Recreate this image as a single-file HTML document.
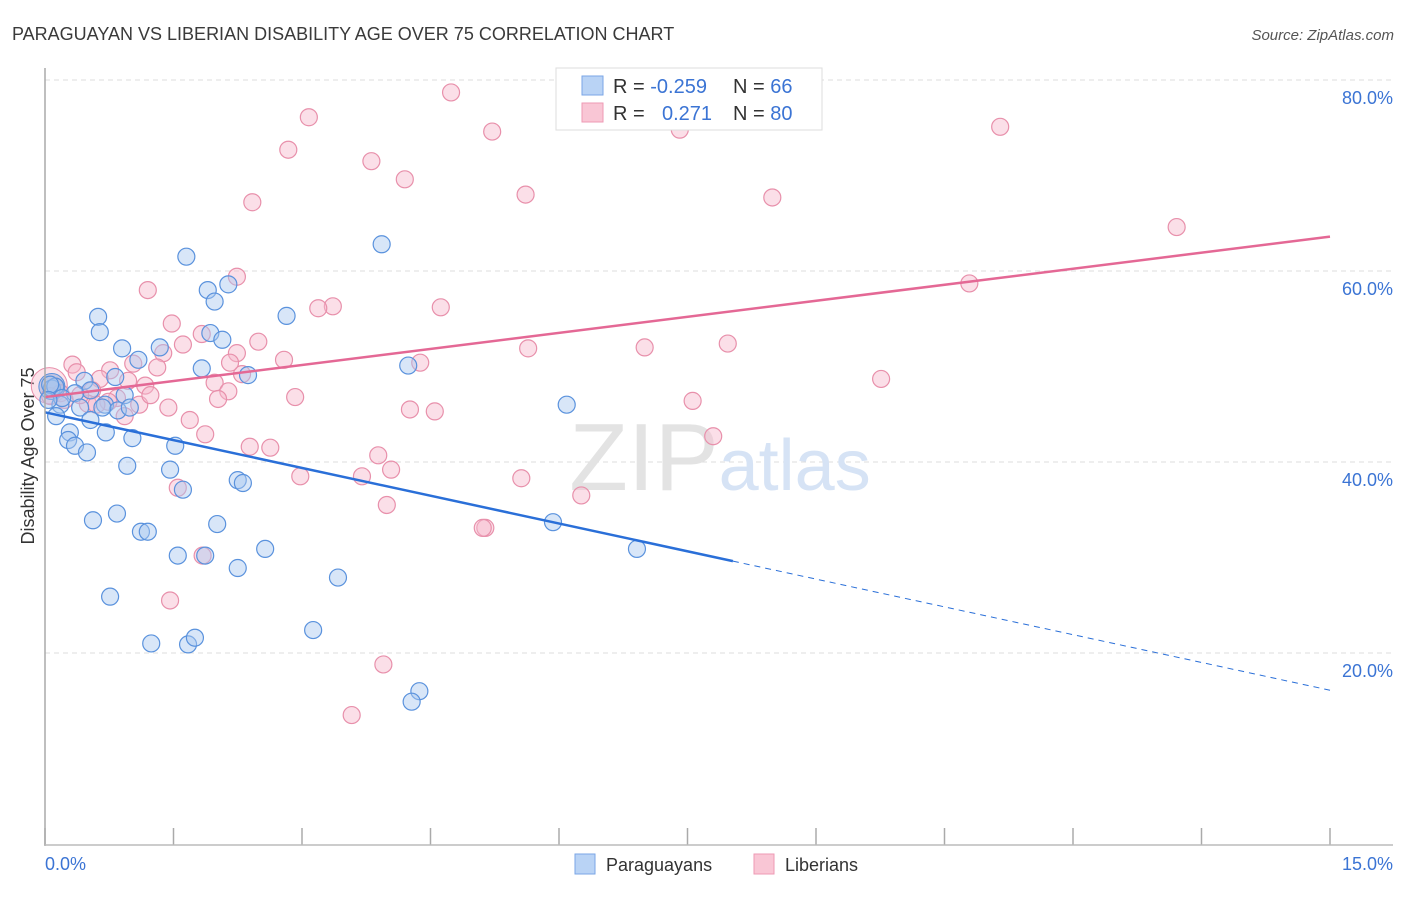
<!DOCTYPE html>
<html><head><meta charset="utf-8"><style>
body{margin:0;background:#fff;font-family:"Liberation Sans",sans-serif;}
svg text{font-family:"Liberation Sans",sans-serif;}
</style></head><body>
<svg id="chart" width="1406" height="892" xmlns="http://www.w3.org/2000/svg">
<text x="12" y="40" font-size="18" fill="#3a3a3a">PARAGUAYAN VS LIBERIAN DISABILITY AGE OVER 75 CORRELATION CHART</text>
<text x="1394" y="40" font-size="15" fill="#555" font-style="italic" text-anchor="end">Source: ZipAtlas.com</text>
<text transform="translate(34,456) rotate(-90)" font-size="18" fill="#333" text-anchor="middle">Disability Age Over 75</text>
<g id="grid"></g>
<g id="ticks"></g>
<text x="720" y="490" font-size="96" fill="#e3e3e3" text-anchor="middle" font-family="Liberation Serif"><tspan>ZIP</tspan><tspan fill="#d6e3f5" font-family="Liberation Sans" font-size="72">atlas</tspan></text>
<g id="pink"></g>
<g id="blue"></g>
<g id="trends"></g>
<line x1="45" y1="68" x2="45" y2="846" stroke="#aaa" stroke-width="1.5"/>
<line x1="45" y1="845" x2="1393" y2="845" stroke="#bbb" stroke-width="1.5"/>
<text x="45" y="870" font-size="18" fill="#3b74d4">0.0%</text>
<text x="1393" y="870" font-size="18" fill="#3b74d4" text-anchor="end">15.0%</text>
<g>
<rect x="556" y="68" width="266" height="62" fill="#fff" stroke="#ddd"/>
<rect x="582" y="76" width="21" height="19" fill="#b9d3f5" stroke="#7aa6e6"/>
<rect x="582" y="103" width="21" height="19" fill="#f9c6d5" stroke="#ee9ab4"/>
<text x="613" y="93" font-size="20" fill="#333">R = <tspan fill="#3b74d4">-0.259</tspan><tspan x="733">N = </tspan><tspan fill="#3b74d4">66</tspan></text>
<text x="613" y="120" font-size="20" fill="#333">R = <tspan x="662" fill="#3b74d4">0.271</tspan><tspan x="733">N = </tspan><tspan fill="#3b74d4">80</tspan></text>
</g>
<g>
<rect x="575" y="854" width="20" height="20" fill="#b9d3f5" stroke="#7aa6e6"/>
<text x="606" y="871" font-size="18" fill="#333">Paraguayans</text>
<rect x="754" y="854" width="20" height="20" fill="#f9c6d5" stroke="#ee9ab4"/>
<text x="785" y="871" font-size="18" fill="#333">Liberians</text>
</g>
</svg>
<script>
const yTicks=[20,40,60,80];
const yTickLabels=["20.0%","40.0%","60.0%","80.0%"];
const xTicks=[0,1.5,3,4.5,6,7.5,9,10.5,12,13.5,15];
const blueX=[3.93,1.65,1.90,2.14,1.98,0.62,0.64,2.82,1.93,2.07,0.90,1.34,1.09,1.83,4.24,2.37,0.46,0.82,0.53,0.93,0.08,0.35,0.18,0.41,0.70,0.85,0.99,0.13,0.53,0.29,0.27,0.35,0.49,0.71,1.02,1.52,0.96,1.46,1.61,2.25,2.31,6.09,0.56,0.84,1.12,1.20,2.01,5.93,2.57,1.55,1.87,6.91,2.25,3.42,0.76,1.24,1.67,1.75,3.13,4.37,4.28,0.12,0.06,0.20,0.04,0.67];
const blueY=[62.8,61.5,58.0,58.6,56.8,55.2,53.6,55.3,53.5,52.8,51.9,52.0,50.7,49.8,50.1,49.1,48.5,48.9,47.5,47.0,47.7,47.2,46.0,45.7,46.0,45.4,45.7,44.8,44.4,43.1,42.3,41.7,41.0,43.1,42.5,41.7,39.6,39.2,37.1,38.1,37.8,46.0,33.9,34.6,32.7,32.7,33.5,33.7,30.9,30.2,30.2,30.9,28.9,27.9,25.9,21.0,20.9,21.6,22.4,16.0,14.9,47.9,48.1,46.7,46.5,45.7];
const pinkX=[4.74,3.08,5.22,7.41,11.15,2.84,3.81,4.20,5.61,2.42,8.49,13.21,2.24,10.79,1.20,3.36,3.19,4.62,1.48,1.83,1.61,2.49,5.64,7.00,7.97,2.24,1.38,2.79,4.38,0.32,1.31,1.03,0.76,0.37,2.30,0.97,1.98,0.64,1.17,2.14,9.76,2.02,2.92,7.56,4.26,4.55,1.10,0.84,0.55,0.50,0.74,0.93,1.69,1.87,2.39,2.63,7.80,3.89,4.04,3.70,2.98,5.56,6.26,1.55,3.99,5.14,5.11,1.84,1.46,3.95,3.58,0.12,0.18,0.06,0.23,0.41,0.60,1.23,1.44,2.16];
const pinkY=[78.7,76.1,74.6,74.8,75.1,72.7,71.5,69.6,68.0,67.2,67.7,64.6,59.4,58.7,58.0,56.3,56.1,56.2,54.5,53.4,52.3,52.6,51.9,52.0,52.4,51.4,51.4,50.7,50.4,50.2,49.9,50.3,49.6,49.4,49.2,48.5,48.3,48.7,48.0,47.4,48.7,46.6,46.8,46.4,45.5,45.3,46.0,46.7,47.5,46.1,46.3,44.8,44.4,42.9,41.6,41.5,42.7,40.7,39.2,38.5,38.5,38.3,36.5,37.3,35.5,33.1,33.1,30.2,25.5,18.8,13.5,47.9,47.2,46.9,46.5,47.0,46.0,47.0,45.7,50.4];
const blueTrend=[45.2,-1.94];
const blueSolidEnd=8.03;
const pinkTrend=[46.8,1.12];
const X0=45,X1=1330,Y0=844,PXY=9.55;
function sx(v){return X0+(X1-X0)*v/15;}
function sy(v){return Y0-v*PXY;}
const NS="http://www.w3.org/2000/svg";
const grid=document.getElementById('grid');
yTicks.forEach((t,i)=>{
 const l=document.createElementNS(NS,'line');
 
 
 l.setAttribute('x1',45);l.setAttribute('x2',1393);l.setAttribute('y1',sy(t));l.setAttribute('y2',sy(t));
 l.setAttribute('stroke','#ddd');l.setAttribute('stroke-dasharray','5,4');
 grid.appendChild(l);
 const tx=document.createElementNS(NS,'text');
 
 
 tx.setAttribute('x',1393);tx.setAttribute('y',sy(t)+24);tx.setAttribute('text-anchor','end');
 tx.setAttribute('font-size','18');tx.setAttribute('fill','#3b74d4');tx.textContent=yTickLabels[i];
 grid.appendChild(tx);
});
const ticks=document.getElementById('ticks');
xTicks.forEach(t=>{
 const l=document.createElementNS(NS,'line');
 
 
 l.setAttribute('x1',sx(t));l.setAttribute('x2',sx(t));l.setAttribute('y1',828);l.setAttribute('y2',845);
 l.setAttribute('stroke','#aaa');l.setAttribute('stroke-width','1.5');
 ticks.appendChild(l);
});
function dots(g,xs,ys,fill,stroke,name){
 xs.forEach((x,i)=>{
  const c=document.createElementNS(NS,'circle');
  
  
  c.setAttribute('cx',sx(x));c.setAttribute('cy',sy(ys[i]));c.setAttribute('r',8.5);
  c.setAttribute('fill',fill);c.setAttribute('fill-opacity','0.45');c.setAttribute('stroke',stroke);c.setAttribute('stroke-width','1.2');
  g.appendChild(c);
 });
}
const pg=document.getElementById('pink'),bg=document.getElementById('blue');
const big=document.createElementNS(NS,'circle');


big.setAttribute('cx',sx(0.05));big.setAttribute('cy',sy(48));big.setAttribute('r',18);
big.setAttribute('fill','#f7b8cb');big.setAttribute('fill-opacity','0.4');big.setAttribute('stroke','#e890ab');
pg.appendChild(big);
dots(pg,pinkX,pinkY,'#f7b8cb','#e890ab','liberian-point');
const bb=document.createElementNS(NS,'circle');


bb.setAttribute('cx',sx(0.08));bb.setAttribute('cy',sy(47.9));bb.setAttribute('r',13);
bb.setAttribute('fill','#8fa9d8');bb.setAttribute('fill-opacity','0.5');bb.setAttribute('stroke','#5a92dd');
bg.appendChild(bb);
dots(bg,blueX,blueY,'#a8c8f0','#5a92dd','paraguayan-point');
const tr=document.getElementById('trends');
function line(x1,x2,tp,color,dash,w,name){
 const l=document.createElementNS(NS,'line');
 
 
 l.setAttribute('x1',sx(x1));l.setAttribute('x2',sx(x2));
 l.setAttribute('y1',sy(tp[0]+tp[1]*x1));l.setAttribute('y2',sy(tp[0]+tp[1]*x2));
 l.setAttribute('stroke',color);l.setAttribute('stroke-width',w);
 if(dash)l.setAttribute('stroke-dasharray',dash);
 tr.appendChild(l);
}
line(0,blueSolidEnd,blueTrend,'#2a6fd8',null,2.5,'paraguayan-trend-line');
line(blueSolidEnd,15,blueTrend,'#2a6fd8','6,5',1,'paraguayan-trend-extension');
line(0,15,pinkTrend,'#e46895',null,2.5,'liberian-trend-line');
</script>
</body></html>
